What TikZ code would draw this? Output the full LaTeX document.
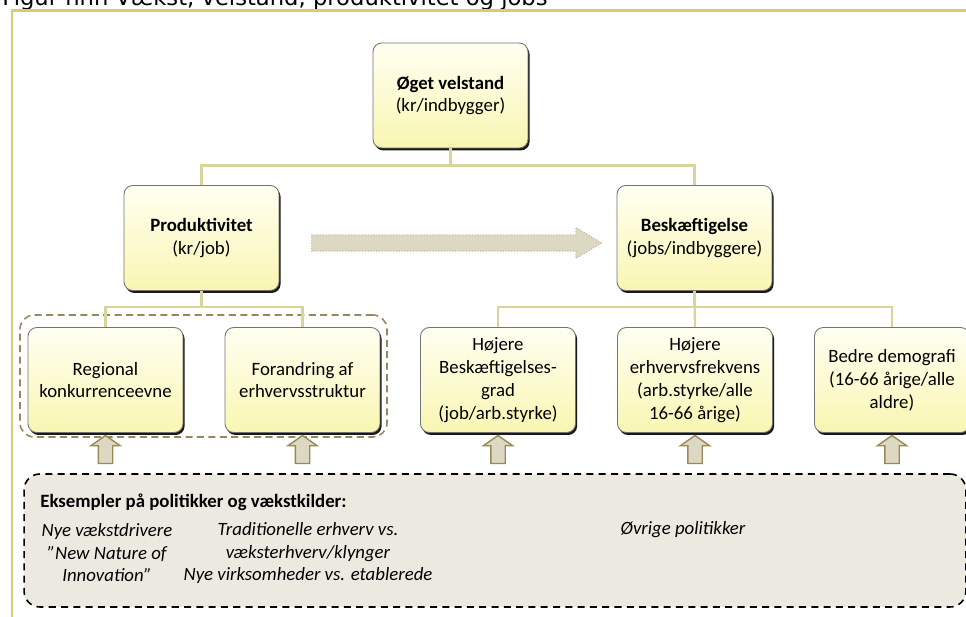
\documentclass[tikz,border=0pt]{standalone}
\usepackage{fontspec}
\setmainfont{Carlito}
\newfontfamily\titlefont{DejaVu Sans}
\usetikzlibrary{shapes.arrows,shadows}

\definecolor{framecol}{RGB}{212,207,110}
\definecolor{linkcol}{RGB}{216,212,155}
\definecolor{boxtop}{RGB}{255,255,242}
\definecolor{boxbot}{RGB}{249,246,178}
\definecolor{arrowfill}{RGB}{221,216,196}
\definecolor{arrowline}{RGB}{152,138,86}
\definecolor{groupcol}{RGB}{150,136,92}
\definecolor{eksfill}{RGB}{236,234,224}

\tikzset{
    box/.style={draw=black!55, line width=0.5pt, rounded corners=5pt,
        top color=boxtop, bottom color=boxbot,
        minimum width=3.1cm, minimum height=2.1cm, align=center, inner sep=1pt,
        font=\fontsize{10.7}{13}\selectfont,
        drop shadow={shadow xshift=0.9pt, shadow yshift=-1.4pt, fill=black, opacity=0.9}},
    link/.style={draw=linkcol, line width=1.3pt},
    uparrow/.style={single arrow, shape border rotate=90, draw=arrowline, fill=arrowfill,
        line width=0.8pt, minimum height=0.56cm, inner sep=0.13cm,
        single arrow head extend=0.15cm, single arrow tip angle=110},
    bigarrow/.style={single arrow, draw=arrowline!60, densely dotted, fill=arrowfill,
        line width=0.6pt, minimum height=5.8cm, inner sep=0.15cm,
        single arrow head extend=0.15cm, single arrow tip angle=62},
    groupbox/.style={draw=groupcol, dash pattern=on 4pt off 2.5pt, line width=0.9pt,
        rounded corners=8pt, minimum width=7.34cm, minimum height=2.44cm},
    eksbox/.style={draw=black, fill=eksfill, dash pattern=on 4pt off 3pt, line width=0.9pt,
        rounded corners=9pt, minimum width=18.84cm, minimum height=2.66cm},
    ekstext/.style={align=center, font=\itshape\fontsize{10.7}{12.8}\selectfont}
}

\begin{document}
\begin{tikzpicture}[x=0.02cm, y=-0.02cm]
                \useasboundingbox (0,0) rectangle (966,617);

                %%title and frame
                \node[anchor=base west, inner sep=0pt, font=\titlefont\fontsize{12.9}{15}\selectfont]
                    (title) at (2,6) {Figur nnn Vækst, velstand, produktivitet og jobs};
                \draw[draw=framecol, line width=1.7pt]
                    (12,617) -- (12,11) -- (966,11);

                %%examples box
                \node[eksbox] (eks) at (495,540.5) {};
                \node[anchor=west, inner sep=0pt, font=\bfseries\fontsize{10.7}{13}\selectfont]
                    (ekshead) at (40,502) {Eksempler på politikker og vækstkilder:};
                \node[ekstext] (drivere) at (107,553)
                    {Nye vækstdrivere\\”New Nature of\\Innovation”};
                \node[ekstext] (erhverv) at (308,553)
                    {Traditionelle erhverv vs.\\væksterhverv/klynger\\Nye virksomheder vs. etablerede};
                \node[ekstext] (oevrige) at (683,530) {Øvrige politikker};

                %%group round the left part
                \node[groupbox] (grp) at (203.5,376) {};

                %%boxes
                \node[box] (velstand) at (450.5,95.5)
                    {\textbf{Øget velstand}\\(kr/indbygger)};
                \node[box] (prod) at (201.5,238)
                    {\textbf{Produktivitet}\\(kr/job)};
                \node[box] (besk) at (694.5,238)
                    {\textbf{Beskæftigelse}\\(jobs/indbyggere)};
                \node[box] (regional) at (105.5,380)
                    {Regional\\konkurrenceevne};
                \node[box] (forandring) at (302.5,380)
                    {Forandring af\\erhvervsstruktur};
                \node[box] (graden) at (498,380)
                    {Højere\\Beskæftigelses-\\grad\\(job/arb.styrke)};
                \node[box] (frekvens) at (695,380)
                    {Højere\\erhvervsfrekvens\\(arb.styrke/alle\\16-66 årige)};
                \node[box] (demografi) at (892,380)
                    {Bedre demografi\\(16-66 årige/alle\\aldre)};

                %%tree lines
                \draw[link]
                    (velstand.south) -- ++(0,17) -| (prod.north);
                \draw[link]
                    (velstand.south) -- ++(0,17) -| (besk.north);
                \draw[link]
                    (prod.south) -- ++(0,16) -| (regional.north);
                \draw[link]
                    (prod.south) -- ++(0,16) -| (forandring.north);
                \draw[link]
                    (besk.south) -- ++(0,16) -| (graden.north);
                \draw[link]
                    (besk.south) -- (frekvens.north);
                \draw[link]
                    (besk.south) -- ++(0,16) -| (demografi.north);

                %%arrows
                \node[bigarrow] (shift) at (450,243) {};
                \node[uparrow] (up1) at (105.5,452) {};
                \node[uparrow] (up2) at (302.5,452) {};
                \node[uparrow] (up3) at (498,452) {};
                \node[uparrow] (up4) at (695,452) {};
                \node[uparrow] (up5) at (892,452) {};
\end{tikzpicture}
\end{document}
